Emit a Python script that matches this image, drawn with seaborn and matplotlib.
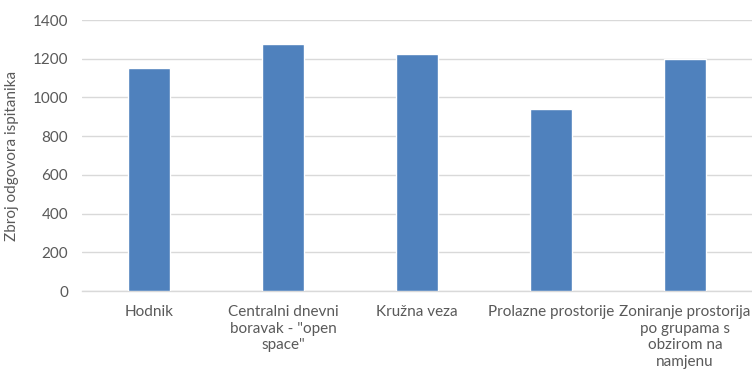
import matplotlib
matplotlib.use("Agg")
import matplotlib.pyplot as plt
import seaborn as sns
import pandas as pd

# chart data
categories = [
    "Hodnik",
    "Centralni dnevni\nboravak - \"open\nspace\"",
    "Kružna veza",
    "Prolazne prostorije",
    "Zoniranje prostorija\npo grupama s\nobzirom na\nnamjenu",
]
responses = [1150, 1275, 1225, 940, 1200]
y_ticks = [0, 200, 400, 600, 800, 1000, 1200, 1400]

df = pd.DataFrame({"kategorija": categories, "odgovori": responses})

sns.set_style("white")
plt.rcParams["font.family"] = ["Lato", "DejaVu Sans"]

fig = plt.figure(figsize=(7.52, 3.78), dpi=100)
ax = fig.add_axes([0.109, 0.230, 0.891, 0.717])

sns.barplot(data=df, x="kategorija", y="odgovori", color="#4F81BD",
            width=0.31, saturation=1, ax=ax, zorder=3)

ax.set_ylim(0, 1400)
ax.set_yticks(y_ticks)
ax.grid(True, axis="y", color="#D9D9D9", linewidth=1, zorder=0)
ax.set_xlim(-0.5, len(categories) - 0.5)

for s in ["top", "right", "left"]:
    ax.spines[s].set_visible(False)
ax.spines["bottom"].set_color("#D9D9D9")
ax.spines["bottom"].set_linewidth(1)

ax.tick_params(axis="both", length=0, labelsize=11, colors="#595959")
ax.tick_params(axis="x", pad=10)
ax.tick_params(axis="y", pad=10)
for lbl in ax.get_xticklabels():
    lbl.set_horizontalalignment("center")
    lbl.set_linespacing(1.25)

ax.set_xlabel("")
ax.set_ylabel("Zbroj odgovora ispitanika", fontsize=11, color="#595959", labelpad=10)

fig.savefig("out.png", dpi=100)
